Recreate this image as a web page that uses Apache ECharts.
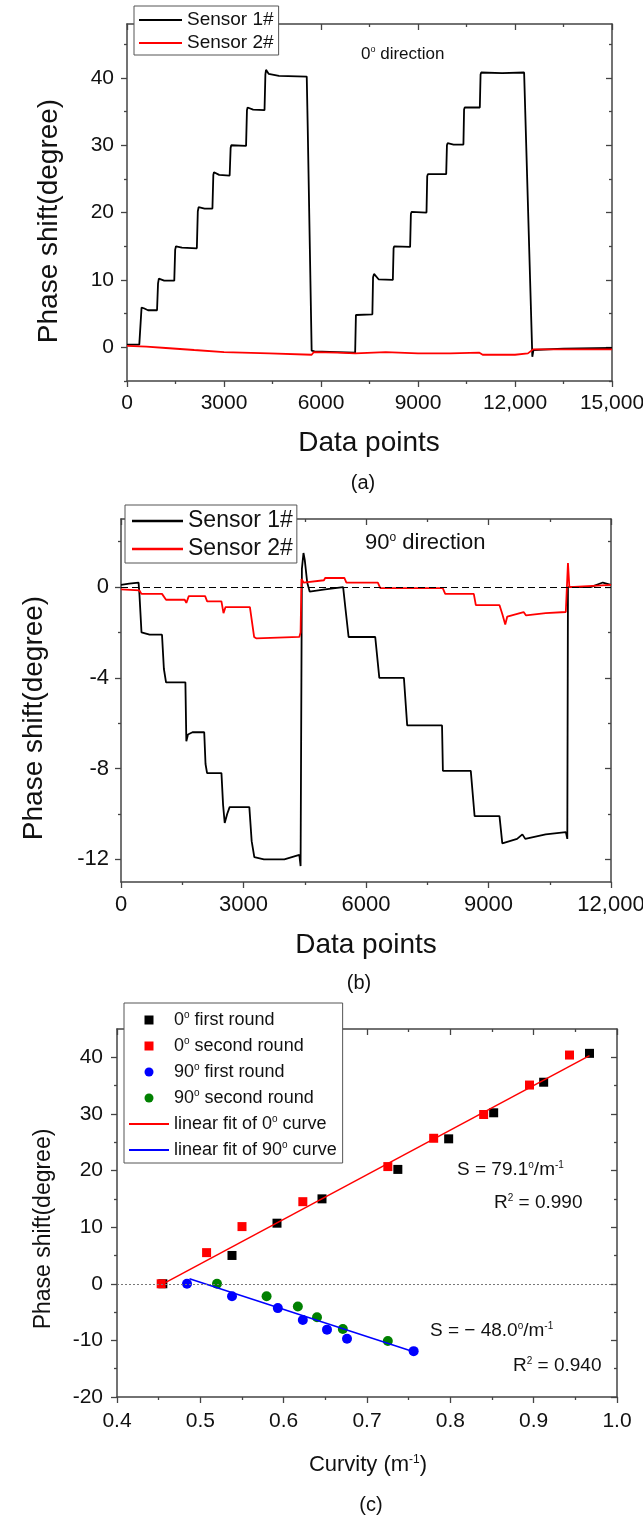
<!DOCTYPE html>
<html>
<head>
<meta charset="utf-8">
<style>
  html, body { margin: 0; padding: 0; background: #fff; }
  #chart { width: 643px; height: 1517px; }
</style>
</head>
<body>
<div id="chart"></div>
<script src="https://cdn.jsdelivr.net/npm/echarts@6/dist/echarts.min.js"></script>
<script>
// ---- (a) 0° direction, phase shift vs data points ----
const aSensor1 = [[0,0.4],[380,0.4],[422,0.6],[450,5.9],[520,5.8],[650,5.5],[929,5.5],[960,9.5],[985,10.2],[1150,9.9],[1462,9.9],[1490,14.5],[1515,15.0],[1700,14.8],[2160,14.7],[2190,20.2],[2215,20.8],[2400,20.6],[2642,20.6],[2670,25.6],[2690,26.0],[2850,25.6],[3175,25.5],[3205,29.6],[3225,30.0],[3682,29.9],[3710,35.2],[3730,35.6],[3900,35.3],[4253,35.2],[4280,40.5],[4300,41.2],[4380,40.6],[4700,40.3],[5559,40.2],[5590,32.5],[5711,-0.5],[5800,-0.6],[6500,-0.7],[7056,-0.8],[7080,4.8],[7100,5.0],[7589,4.9],[7610,10.4],[7640,10.9],[7780,10.1],[8222,10.0],[8245,14.7],[8265,15.0],[8756,14.9],[8780,19.8],[8800,20.1],[9263,20.0],[9285,25.4],[9305,25.7],[9872,25.7],[9895,30.0],[9915,30.3],[10100,30.1],[10405,30.1],[10425,35.3],[10445,35.6],[10912,35.6],[10935,40.5],[10955,40.8],[11600,40.7],[12282,40.8],[12536,-1.4],[12570,-0.4],[13500,-0.2],[15000,-0.1]];
const aSensor2 = [[0,0.2],[600,0.1],[1200,-0.1],[2078,-0.4],[3000,-0.7],[4400,-0.9],[5711,-1.1],[5780,-0.7],[6500,-0.8],[7056,-0.9],[8000,-0.7],[9000,-0.9],[10000,-0.9],[10900,-0.8],[11000,-1.1],[12000,-1.1],[12400,-0.9],[12560,-0.3],[14000,-0.3],[15000,-0.3]];

// ---- (b) 90° direction ----
const bSensor1 = [[0,0.1],[200,0.15],[430,0.2],[451,-0.3],[502,-2.0],[700,-2.1],[1004,-2.1],[1050,-3.6],[1103,-4.2],[1577,-4.2],[1600,-6.8],[1640,-6.5],[1750,-6.4],[2038,-6.4],[2070,-7.8],[2108,-8.2],[2460,-8.2],[2500,-9.6],[2540,-10.4],[2600,-10.0],[2660,-9.7],[3143,-9.7],[3200,-11.2],[3265,-11.9],[3500,-12.0],[4000,-12.0],[4367,-11.8],[4398,-12.3],[4430,0.8],[4469,1.5],[4500,1.2],[4560,0.2],[4620,-0.2],[5000,-0.1],[5440,0],[5500,-1.0],[5574,-2.2],[6226,-2.2],[6326,-4.0],[6928,-4.0],[7009,-6.1],[7862,-6.1],[7883,-8.1],[8566,-8.1],[8660,-10.1],[9269,-10.1],[9338,-11.3],[9700,-11.1],[9830,-10.9],[9900,-11.1],[10400,-10.9],[10895,-10.8],[10930,-11.1],[10946,0],[11500,0],[11800,0.2],[12000,0.1]];
const bSensor2 = [[0,-0.1],[451,-0.15],[502,-0.3],[1004,-0.3],[1103,-0.56],[1560,-0.56],[1600,-0.7],[1660,-0.4],[2060,-0.4],[2110,-0.63],[2460,-0.63],[2510,-1.15],[2560,-0.88],[3157,-0.88],[3260,-2.2],[3310,-2.26],[4367,-2.2],[4398,-2.0],[4420,0.36],[4470,0.2],[4970,0.3],[5000,0.4],[5470,0.4],[5520,0.2],[6290,0.2],[6350,-0.05],[7880,-0.05],[7940,-0.3],[8640,-0.3],[8690,-0.8],[9270,-0.8],[9340,-1.2],[9410,-1.65],[9460,-1.3],[9860,-1.1],[9920,-1.25],[10400,-1.15],[10893,-1.1],[10946,1.06],[10980,0],[12000,0.1]];

// ---- (c) phase shift vs curvity ----
const c0First = [[0.455,0],[0.538,5.0],[0.592,10.7],[0.646,15.0],[0.737,20.2],[0.798,25.6],[0.852,30.2],[0.912,35.6],[0.967,40.7]];
const c0Second = [[0.453,0],[0.5075,5.5],[0.550,10.1],[0.623,14.5],[0.725,20.7],[0.780,25.7],[0.840,29.9],[0.895,35.1],[0.943,40.4]];
const c90First = [[0.484,0],[0.538,-2.2],[0.593,-4.3],[0.623,-6.4],[0.652,-8.1],[0.676,-9.7],[0.756,-11.9]];
const c90Second = [[0.520,0],[0.5795,-2.2],[0.617,-4.0],[0.640,-5.9],[0.671,-8.0],[0.725,-10.1]];
const cFit0 = [[0.458,0.2],[0.967,40.3]];
const cFit90 = [[0.487,0.9],[0.756,-12.0]];

// tick values
const aXMajor = [0,3000,6000,9000,12000,15000];
const aXMinor = [1500,4500,7500,10500,13500];
const aYMajor = [0,10,20,30,40];
const aYMinor = [-5,5,15,25,35,45];
const bXMajor = [0,3000,6000,9000,12000];
const bXMinor = [1500,4500,7500,10500];
const bYMajor = [0,-4,-8,-12];
const bYMinor = [2,-2,-6,-10];
const cXMajor = [0.4,0.5,0.6,0.7,0.8,0.9,1.0];
const cXMinor = [0.45,0.55,0.65,0.75,0.85,0.95];
const cYMajor = [-20,-10,0,10,20,30,40];
const cYMinor = [-15,-5,5,15,25,35];

const FONT = "Liberation Sans";
const FRAME = "#444";
const INK = "#111";

// legend icons: plain line, and a square centred in the icon box
const LINE_ICON = "path://M0,0h40v2h-40z";
const SQUARE_ICON = "path://M0,0M40,0M40,9M0,9M15.5,0h9v9h-9z";

const thousands = (v) => (v >= 10000 ? v.toLocaleString("en-US") : String(v));

// 4 axes per direction: main (labels + major ticks), main minor ticks, mirror major, mirror minor
function axisSet(dim, grid, min, max, major, minor, fontSize, fmt, margin) {
  const mainPos = dim === "x" ? "bottom" : "left";
  const mirrorPos = dim === "x" ? "top" : "right";
  const base = { type: "value", gridIndex: grid, min: min, max: max, splitLine: { show: false } };
  const line = { show: true, onZero: false, lineStyle: { color: FRAME, width: 1.5 } };
  const noLine = { show: false, onZero: false };
  const tick = (vals, len, inside) => ({ show: true, inside: inside, length: len, customValues: vals, lineStyle: { color: FRAME, width: 1.3 } });
  return [
    Object.assign({}, base, {
      position: mainPos, axisLine: line, axisTick: tick(major, 6, false),
      axisLabel: { show: true, customValues: major, formatter: fmt, fontSize: fontSize, fontFamily: FONT, color: INK, margin: margin },
    }),
    Object.assign({}, base, { position: mainPos, axisLine: noLine, axisTick: tick(minor, 3, false), axisLabel: { show: false } }),
    Object.assign({}, base, { position: mirrorPos, axisLine: line, axisTick: tick(major, 6, true), axisLabel: { show: false } }),
    Object.assign({}, base, { position: mirrorPos, axisLine: noLine, axisTick: tick(minor, 3, true), axisLabel: { show: false } }),
  ];
}

function rich(size) {
  return {
    sup: { fontSize: Math.round(size * 0.55), fontFamily: FONT, fill: INK, color: INK, verticalAlign: "top" },
  };
}

function txt(x, y, text, size, align, rotation) {
  return {
    type: "text", x: x, y: y, z: 100, rotation: rotation || 0,
    style: {
      text: text, fontSize: size, fontFamily: FONT, fill: INK,
      align: align || "left", textAlign: align || "left",
      verticalAlign: "middle", textVerticalAlign: "middle", rich: rich(size),
    },
  };
}

function legendBox(items, left, top, size, lineH, gap, iconW, iconH, padding) {
  return {
    data: items, orient: "vertical", left: left, top: top, z: 20,
    selectedMode: false, backgroundColor: "#fff",
    borderColor: "#555", borderWidth: 1, padding: padding,
    itemWidth: iconW, itemHeight: iconH, itemGap: gap,
    itemStyle: { opacity: 1 },
    formatter: (n) => n.replace("°", "{sup|o}"),
    textStyle: { fontSize: size, fontFamily: FONT, color: INK, lineHeight: lineH, rich: rich(size) },
  };
}

const xAxes = [].concat(
  axisSet("x", 0, 0, 15000, aXMajor, aXMinor, 21, thousands, 12),
  axisSet("x", 1, 0, 12000, bXMajor, bXMinor, 22, thousands, 12),
  axisSet("x", 2, 0.4, 1.0, cXMajor, cXMinor, 21, (v) => v.toFixed(1), 14)
);
const yAxes = [].concat(
  axisSet("y", 0, -5, 48, aYMajor, aYMinor, 21, String, 13),
  axisSet("y", 1, -13, 3, bYMajor, bYMinor, 22, String, 12),
  axisSet("y", 2, -20, 45, cYMajor, cYMinor, 21, String, 14)
);

const lineSeries = (name, data, color, axis, width) => ({
  type: "line", name: name, data: data, xAxisIndex: axis, yAxisIndex: axis,
  symbol: "none", lineStyle: { color: color, width: width || 1.8 }, itemStyle: { color: color },
});
const dotSeries = (name, data, color, shape, size) => ({
  type: "scatter", name: name, data: data, xAxisIndex: 8, yAxisIndex: 8,
  symbol: shape, symbolSize: size, itemStyle: { color: color, opacity: 1 },
});

const zeroB = {
  silent: true, symbol: ["none", "none"], label: { show: false },
  lineStyle: { color: "#000", width: 1, type: [7, 4] }, data: [{ yAxis: 0 }],
};
const zeroC = {
  silent: true, symbol: ["none", "none"], label: { show: false },
  lineStyle: { color: "#777", width: 1, type: [2, 2] }, data: [{ yAxis: 0 }],
};

const c0FirstSeries = dotSeries("0° first round", c0First, "#000", "rect", 9);
c0FirstSeries.markLine = zeroC;
const bS1 = lineSeries("Sensor 1#", bSensor1, "#000", 4);
bS1.markLine = zeroB;

const sensorItems = [
  { name: "Sensor 1#", icon: LINE_ICON },
  { name: "Sensor 2#", icon: LINE_ICON },
];

const option = {
  animation: false,
  backgroundColor: "#fff",
  grid: [
    { left: 127, top: 24, width: 485, height: 357, outerBoundsMode: "none" },
    { left: 121, top: 519, width: 490, height: 363, outerBoundsMode: "none" },
    { left: 117, top: 1029, width: 500, height: 368, outerBoundsMode: "none" },
  ],
  xAxis: xAxes,
  yAxis: yAxes,
  legend: [
    legendBox(sensorItems, 134, 6, 19, 20, 3, 43, 14, [4, 5, 2, 5]),
    legendBox(sensorItems, 125, 505, 23, 24, 4, 51, 14, [4, 4, 2, 7]),
    legendBox([
      { name: "0° first round", icon: SQUARE_ICON },
      { name: "0° second round", icon: SQUARE_ICON },
      { name: "90° first round", icon: "circle" },
      { name: "90° second round", icon: "circle" },
      { name: "linear fit of 0° curve", icon: LINE_ICON },
      { name: "linear fit of 90° curve", icon: LINE_ICON },
    ], 124, 1003, 18, 20, 6, 40, 9, [7, 6, 3, 5]),
  ],
  series: [
    lineSeries("Sensor 1#", aSensor1, "#000", 0),
    lineSeries("Sensor 2#", aSensor2, "#ff0000", 0),
    bS1,
    lineSeries("Sensor 2#", bSensor2, "#ff0000", 4),
    c0FirstSeries,
    dotSeries("0° second round", c0Second, "#ff0000", "rect", 9),
    dotSeries("90° first round", c90First, "#0000ff", "circle", 10),
    dotSeries("90° second round", c90Second, "#008000", "circle", 10),
    lineSeries("linear fit of 0° curve", cFit0, "#ff0000", 8, 1.5),
    lineSeries("linear fit of 90° curve", cFit90, "#0000ff", 8, 1.5),
  ],
  graphic: [
    // panel (a)
    txt(49, 221, "Phase shift(degree)", 28, "center", Math.PI / 2),
    txt(369, 443, "Data points", 28, "center"),
    txt(361, 54, "0{sup|o} direction", 17),
    txt(363, 483, "(a)", 20, "center"),
    // panel (b)
    txt(34, 718, "Phase shift(degree)", 28, "center", Math.PI / 2),
    txt(366, 945, "Data points", 28, "center"),
    txt(365, 543, "90{sup|o} direction", 22),
    txt(359, 983, "(b)", 20, "center"),
    // panel (c)
    txt(44, 1229, "Phase shift(degree)", 23, "center", Math.PI / 2),
    txt(368, 1465, "Curvity (m{sup|-1})", 22, "center"),
    txt(457, 1170, "S = 79.1{sup|o}/m{sup|-1}", 19),
    txt(494, 1203, "R{sup|2} = 0.990", 19),
    txt(430, 1331, "S = \u2212 48.0{sup|o}/m{sup|-1}", 19),
    txt(513, 1366, "R{sup|2} = 0.940", 19),
    txt(371, 1505, "(c)", 20, "center"),
  ],
};

const chart = echarts.init(document.getElementById("chart"));
chart.setOption(option);
</script>
</body>
</html>
